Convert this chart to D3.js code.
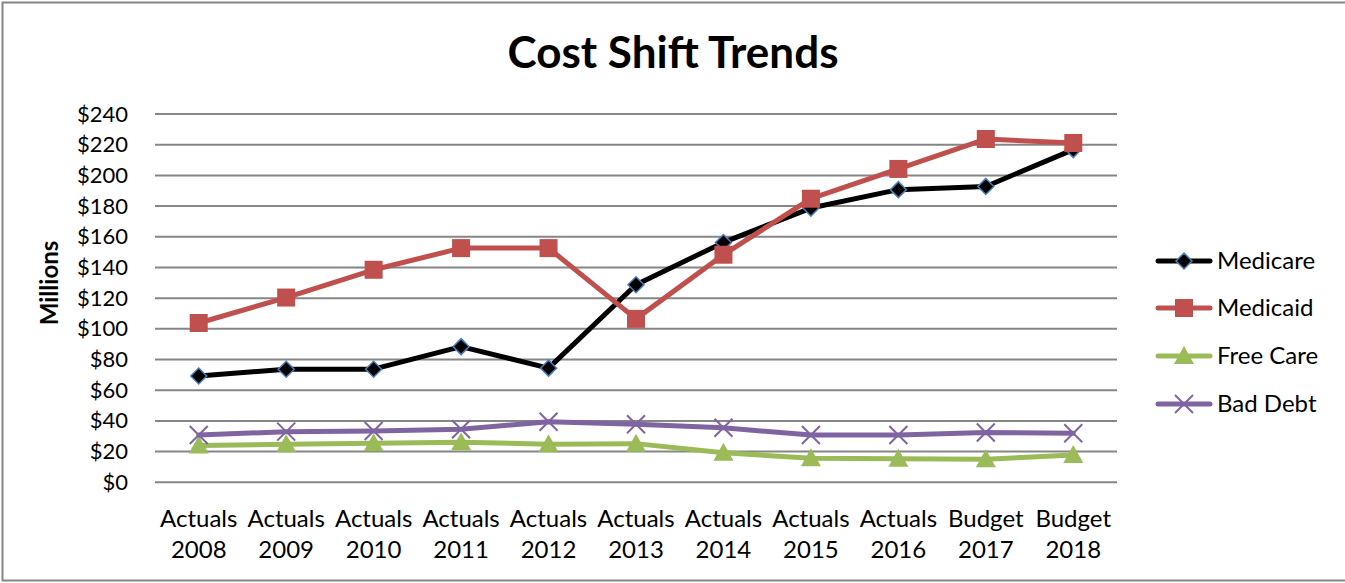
<!DOCTYPE html>
<html>
<head>
<meta charset="utf-8">
<script src="https://cdn.jsdelivr.net/npm/d3@7"></script>
<style>
  body { margin: 0; background: #fff; }
  svg text { font-family: Lato, "Open Sans", sans-serif; fill: #000; }
</style>
</head>
<body>
<svg width="1345" height="583"></svg>
<script>
//chart size
const SVG_WIDTH = 1345;
const SVG_HEIGHT = 583;

//categories along the x axis (two lines each)
var groups = ['Actuals', 'Actuals', 'Actuals', 'Actuals', 'Actuals', 'Actuals',
              'Actuals', 'Actuals', 'Actuals', 'Budget', 'Budget'];
var years = ['2008', '2009', '2010', '2011', '2012', '2013',
             '2014', '2015', '2016', '2017', '2018'];

//series values, in millions
var medicare = [69.3, 73.7, 73.7, 88.4, 74.4, 128.7, 156.3, 178.7, 190.7, 192.8, 216.8];
var medicaid = [103.8, 120.4, 138.5, 152.6, 152.6, 106.5, 148.3, 184.8, 204.2, 223.7, 221.1];
var freeCare = [23.9, 24.8, 25.4, 26.1, 24.8, 25.2, 19.3, 15.6, 15.4, 15.0, 17.8];
var badDebt = [30.8, 33.0, 33.4, 34.6, 39.5, 37.8, 35.5, 30.8, 30.8, 32.4, 32.0];

//y tick values
var yTicks = [0, 20, 40, 60, 80, 100, 120, 140, 160, 180, 200, 220, 240];

var seriesNames = ['Medicare', 'Medicaid', 'Free Care', 'Bad Debt'];
var seriesValues = [medicare, medicaid, freeCare, badDebt];
var colors = {'Medicare': '#000000', 'Medicaid': '#c0504d', 'Free Care': '#9bbb59', 'Bad Debt': '#8064a2'};
var markers = {'Medicare': 'diamond', 'Medicaid': 'square', 'Free Care': 'triangle', 'Bad Debt': 'cross'};

var svg = d3.select('svg');

//outer chart border
svg.append('rect')
   .attr('x', 2.5).attr('y', 2.5)
   .attr('width', SVG_WIDTH + 10).attr('height', 578)
   .attr('fill', 'none')
   .attr('stroke', '#868686')
   .attr('stroke-width', 2);

//scales
var x = d3.scaleBand()
          .domain(years)
          .range([155, 1117]);

var y = d3.scaleLinear()
          .domain([0, 240])
          .range([482.3, 114]);

function cx(i) { return x(years[i]) + x.bandwidth() / 2; }

//gridlines
svg.append('g')
   .selectAll('line')
   .data(yTicks)
   .enter()
   .append('line')
     .attr('x1', 155).attr('x2', 1117)
     .attr('y1', function(d) { return y(d); })
     .attr('y2', function(d) { return y(d); })
     .attr('stroke', '#868686')
     .attr('stroke-width', 2);

//y axis labels
var yAxis = svg.append('g')
   .attr('transform', 'translate(155,0)')
   .call(d3.axisLeft(y).tickValues(yTicks).tickSize(0).tickPadding(27)
           .tickFormat(function(d) { return '$' + d; }));
yAxis.select('.domain').remove();
yAxis.selectAll('text')
     .style('font-family', 'Lato, sans-serif')
     .style('font-size', '22px')
     .attr('fill', '#000');

//x axis labels (two lines)
var xLabels = svg.append('g')
   .selectAll('text')
   .data(years)
   .enter()
   .append('text')
     .attr('text-anchor', 'middle')
     .style('font-size', '24px');
xLabels.append('tspan')
       .attr('x', function(d, i) { return cx(i); })
       .attr('y', 527)
       .text(function(d, i) { return groups[i]; });
xLabels.append('tspan')
       .attr('x', function(d, i) { return cx(i); })
       .attr('y', 558)
       .text(function(d) { return d; });

//title
svg.append('text')
   .attr('x', 673).attr('y', 68)
   .attr('text-anchor', 'middle')
   .style('font-size', '44px')
   .style('font-weight', 'bold')
   .text('Cost Shift Trends');

//y axis title
svg.append('text')
   .attr('transform', 'translate(58,283) rotate(-90)')
   .attr('text-anchor', 'middle')
   .style('font-size', '24px')
   .style('font-weight', 'bold')
   .text('Millions');

//draw a marker of the given type at (px, py)
function drawMarker(g, type, px, py, color) {
    if (type === 'diamond') {
        g.append('path')
         .attr('d', 'M' + px + ',' + (py - 8) + 'L' + (px + 8) + ',' + py + 'L' + px + ',' + (py + 8) + 'L' + (px - 8) + ',' + py + 'Z')
         .attr('fill', '#000')
         .attr('stroke', '#4a7ebb')
         .attr('stroke-width', 1.5);
    } else if (type === 'square') {
        g.append('rect')
         .attr('x', px - 9).attr('y', py - 9)
         .attr('width', 18).attr('height', 18)
         .attr('fill', color);
    } else if (type === 'triangle') {
        g.append('path')
         .attr('d', 'M' + px + ',' + (py - 10) + 'L' + (px + 10) + ',' + (py + 8) + 'L' + (px - 10) + ',' + (py + 8) + 'Z')
         .attr('fill', color);
    } else {
        g.append('path')
         .attr('d', 'M' + (px - 9) + ',' + (py - 9) + 'L' + (px + 9) + ',' + (py + 9) + 'M' + (px + 9) + ',' + (py - 9) + 'L' + (px - 9) + ',' + (py + 9))
         .attr('stroke', color)
         .attr('stroke-width', 2)
         .attr('fill', 'none');
    }
}

//lines and markers for each series
var line = d3.line()
             .x(function(d, i) { return cx(i); })
             .y(function(d) { return y(d); });

seriesNames.forEach(function(name, k) {
    var g = svg.append('g').attr('class', 'series');
    g.append('path')
     .attr('d', line(seriesValues[k]))
     .attr('fill', 'none')
     .attr('stroke', colors[name])
     .attr('stroke-width', 5)
     .attr('stroke-linejoin', 'round')
     .attr('stroke-linecap', 'round');
    seriesValues[k].forEach(function(v, i) {
        drawMarker(g, markers[name], cx(i), y(v), colors[name]);
    });
});

//legend
var legendY = [261, 308, 356, 404];
seriesNames.forEach(function(name, k) {
    var g = svg.append('g');
    g.append('line')
     .attr('x1', 1158).attr('x2', 1210)
     .attr('y1', legendY[k]).attr('y2', legendY[k])
     .attr('stroke', colors[name])
     .attr('stroke-width', 5)
     .attr('stroke-linecap', 'round');
    drawMarker(g, markers[name], 1184, legendY[k], colors[name]);
    g.append('text')
     .attr('x', 1217).attr('y', legendY[k] + 8)
     .style('font-size', '24px')
     .text(name);
});
</script>
</body>
</html>
